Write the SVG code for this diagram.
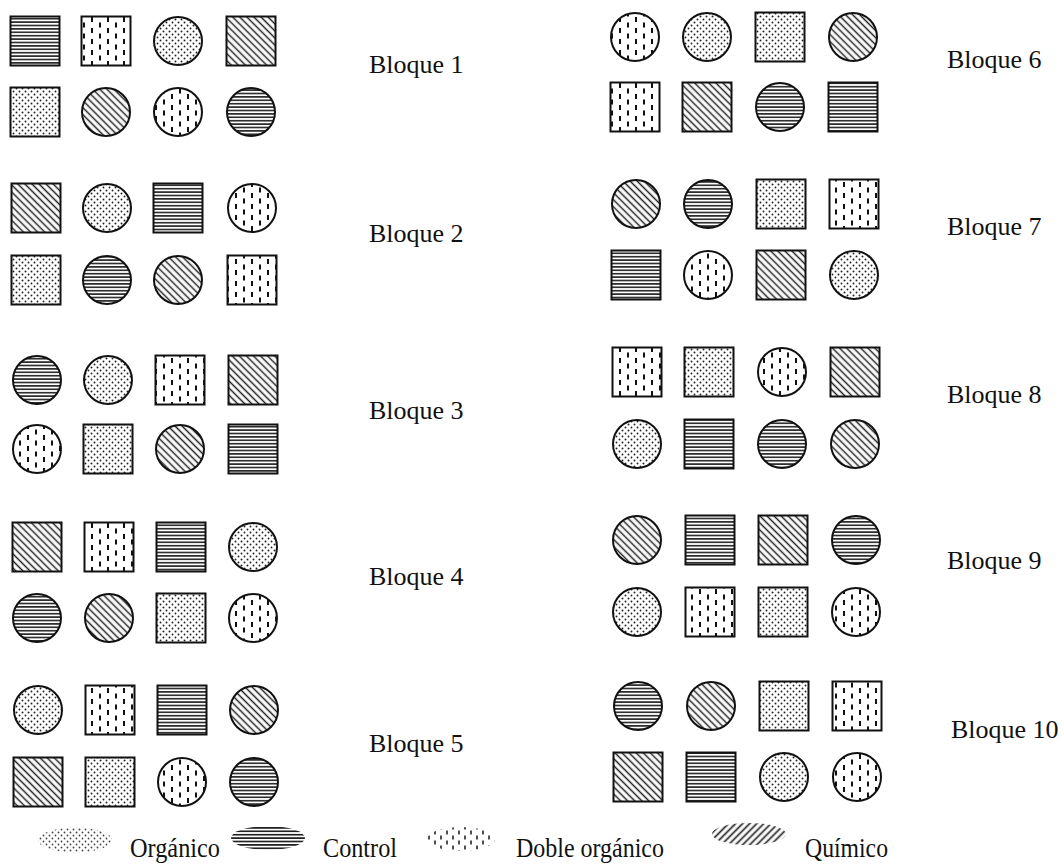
<svg xmlns="http://www.w3.org/2000/svg" width="1064" height="865" viewBox="0 0 1064 865">
<style>
.s{stroke:#111;stroke-width:2}
.O{fill:url(#pO)}
.K{fill:url(#pK)}
.D{fill:url(#pD)}
.Q{fill:url(#pQ)}
.t{font-family:"Liberation Serif","Times New Roman",serif;font-size:26px;fill:#111}
.lg{font-family:"Liberation Serif","Times New Roman",serif;font-size:28px;fill:#111}
</style>
<defs>
<pattern id="pO" width="6" height="6" patternUnits="userSpaceOnUse"><rect width="6" height="6" fill="#fff"/><circle cx="1.5" cy="1.5" r="0.95" fill="#222"/><circle cx="4.5" cy="4.5" r="0.95" fill="#222"/></pattern>
<pattern id="pK" width="8" height="3.4" patternUnits="userSpaceOnUse"><rect width="8" height="3.4" fill="#fff"/><line x1="0" y1="1.7" x2="8" y2="1.7" stroke="#222" stroke-width="1.6"/></pattern>
<pattern id="pQ" width="5" height="5" patternUnits="userSpaceOnUse" patternTransform="rotate(-45)"><rect width="5" height="5" fill="#fff"/><line x1="2.5" y1="0" x2="2.5" y2="5" stroke="#222" stroke-width="1.5"/></pattern>
<pattern id="pD" width="16" height="11" patternUnits="userSpaceOnUse"><rect width="16" height="11" fill="#fff"/><line x1="4" y1="0.5" x2="4" y2="5.5" stroke="#111" stroke-width="2"/><line x1="12" y1="6" x2="12" y2="11" stroke="#111" stroke-width="2"/></pattern>
<pattern id="lO" width="6" height="6" patternUnits="userSpaceOnUse"><circle cx="1.5" cy="1.5" r="0.9" fill="#444"/><circle cx="4.5" cy="4.5" r="0.9" fill="#444"/></pattern>
<pattern id="lK" width="8" height="3.4" patternUnits="userSpaceOnUse"><line x1="0" y1="1.7" x2="8" y2="1.7" stroke="#222" stroke-width="1.7"/></pattern>
<pattern id="lQ" width="5" height="5" patternUnits="userSpaceOnUse" patternTransform="rotate(45)"><line x1="2.5" y1="0" x2="2.5" y2="5" stroke="#222" stroke-width="1.7"/></pattern>
<pattern id="lD" width="12" height="10" patternUnits="userSpaceOnUse"><line x1="3" y1="0.5" x2="3" y2="4.5" stroke="#222" stroke-width="1.6"/><line x1="9" y1="5.5" x2="9" y2="9.5" stroke="#222" stroke-width="1.6"/></pattern>
</defs>

<g id="bloque1">
<rect class="s K" x="10.5" y="16.5" width="49" height="49"/>
<rect class="s D" x="81.5" y="16.5" width="49" height="49"/>
<circle class="s O" cx="178" cy="41" r="24"/>
<rect class="s Q" x="226.5" y="16.5" width="49" height="49"/>
<rect class="s O" x="10.5" y="87.5" width="49" height="49"/>
<circle class="s Q" cx="106" cy="112" r="24"/>
<circle class="s D" cx="178" cy="112" r="24"/>
<circle class="s K" cx="251" cy="112" r="24"/>
<text class="t" x="369" y="73">Bloque 1</text>
</g>

<g id="bloque2">
<rect class="s Q" x="11.5" y="183.5" width="49" height="49"/>
<circle class="s O" cx="107" cy="208" r="24"/>
<rect class="s K" x="153.5" y="183.5" width="49" height="49"/>
<circle class="s D" cx="252" cy="208" r="24"/>
<rect class="s O" x="11.5" y="255.5" width="49" height="49"/>
<circle class="s K" cx="107" cy="280" r="24"/>
<circle class="s Q" cx="178" cy="280" r="24"/>
<rect class="s D" x="227.5" y="255.5" width="49" height="49"/>
<text class="t" x="369" y="242">Bloque 2</text>
</g>

<g id="bloque3">
<circle class="s K" cx="37" cy="380" r="24"/>
<circle class="s O" cx="108" cy="380" r="24"/>
<rect class="s D" x="155.5" y="355.5" width="49" height="49"/>
<rect class="s Q" x="228.5" y="355.5" width="49" height="49"/>
<circle class="s D" cx="37" cy="449" r="24"/>
<rect class="s O" x="83.5" y="424.5" width="49" height="49"/>
<circle class="s Q" cx="180" cy="449" r="24"/>
<rect class="s K" x="228.5" y="424.5" width="49" height="49"/>
<text class="t" x="369" y="419">Bloque 3</text>
</g>

<g id="bloque4">
<rect class="s Q" x="12.5" y="522.5" width="49" height="49"/>
<rect class="s D" x="84.5" y="522.5" width="49" height="49"/>
<rect class="s K" x="156.5" y="522.5" width="49" height="49"/>
<circle class="s O" cx="253" cy="547" r="24"/>
<circle class="s K" cx="37" cy="618" r="24"/>
<circle class="s Q" cx="109" cy="618" r="24"/>
<rect class="s O" x="156.5" y="593.5" width="49" height="49"/>
<circle class="s D" cx="253" cy="618" r="24"/>
<text class="t" x="369" y="585">Bloque 4</text>
</g>

<g id="bloque5">
<circle class="s O" cx="38" cy="710" r="24"/>
<rect class="s D" x="85.5" y="685.5" width="49" height="49"/>
<rect class="s K" x="157.5" y="685.5" width="49" height="49"/>
<circle class="s Q" cx="254" cy="710" r="24"/>
<rect class="s Q" x="13.5" y="757.5" width="49" height="49"/>
<rect class="s O" x="85.5" y="757.5" width="49" height="49"/>
<circle class="s D" cx="182" cy="782" r="24"/>
<circle class="s K" cx="254" cy="782" r="24"/>
<text class="t" x="369" y="752">Bloque 5</text>
</g>

<g id="bloque6">
<circle class="s D" cx="635" cy="37" r="24"/>
<circle class="s O" cx="707" cy="37" r="24"/>
<rect class="s O" x="755.5" y="12.5" width="49" height="49"/>
<circle class="s Q" cx="853" cy="37" r="24"/>
<rect class="s D" x="610.5" y="82.5" width="49" height="49"/>
<rect class="s Q" x="682.5" y="82.5" width="49" height="49"/>
<circle class="s K" cx="780" cy="107" r="24"/>
<rect class="s K" x="828.5" y="82.5" width="49" height="49"/>
<text class="t" x="947" y="68">Bloque 6</text>
</g>

<g id="bloque7">
<circle class="s Q" cx="636" cy="204" r="24"/>
<circle class="s K" cx="708" cy="204" r="24"/>
<rect class="s O" x="756.5" y="179.5" width="49" height="49"/>
<rect class="s D" x="829.5" y="179.5" width="49" height="49"/>
<rect class="s K" x="611.5" y="250.5" width="49" height="49"/>
<circle class="s D" cx="708" cy="275" r="24"/>
<rect class="s Q" x="756.5" y="250.5" width="49" height="49"/>
<circle class="s O" cx="854" cy="275" r="24"/>
<text class="t" x="947" y="235">Bloque 7</text>
</g>

<g id="bloque8">
<rect class="s D" x="612.5" y="347.5" width="49" height="49"/>
<rect class="s O" x="684.5" y="347.5" width="49" height="49"/>
<circle class="s D" cx="782" cy="372" r="24"/>
<rect class="s Q" x="830.5" y="347.5" width="49" height="49"/>
<circle class="s O" cx="637" cy="444" r="24"/>
<rect class="s K" x="684.5" y="419.5" width="49" height="49"/>
<circle class="s K" cx="782" cy="444" r="24"/>
<circle class="s Q" cx="855" cy="444" r="24"/>
<text class="t" x="947" y="403">Bloque 8</text>
</g>

<g id="bloque9">
<circle class="s Q" cx="637" cy="540" r="24"/>
<rect class="s K" x="685.5" y="515.5" width="49" height="49"/>
<rect class="s Q" x="758.5" y="515.5" width="49" height="49"/>
<circle class="s K" cx="856" cy="540" r="24"/>
<circle class="s O" cx="637" cy="612" r="24"/>
<rect class="s D" x="685.5" y="587.5" width="49" height="49"/>
<rect class="s O" x="758.5" y="587.5" width="49" height="49"/>
<circle class="s D" cx="856" cy="612" r="24"/>
<text class="t" x="947" y="569">Bloque 9</text>
</g>

<g id="bloque10">
<circle class="s K" cx="638" cy="706" r="24"/>
<circle class="s Q" cx="711" cy="706" r="24"/>
<rect class="s O" x="759.5" y="681.5" width="49" height="49"/>
<rect class="s D" x="832.5" y="681.5" width="49" height="49"/>
<rect class="s Q" x="613.5" y="752.5" width="49" height="49"/>
<rect class="s K" x="686.5" y="752.5" width="49" height="49"/>
<circle class="s O" cx="784" cy="777" r="24"/>
<circle class="s D" cx="857" cy="777" r="24"/>
<text class="t" x="951" y="738">Bloque 10</text>
</g>

<g id="leyenda">
<ellipse cx="75" cy="840" rx="37" ry="12.5" fill="url(#lO)"/>
<text class="lg" x="130" y="857" textLength="90" lengthAdjust="spacingAndGlyphs">Orgánico</text>
<ellipse cx="268" cy="838" rx="37" ry="12" fill="url(#lK)"/>
<text class="lg" x="323" y="857" textLength="74" lengthAdjust="spacingAndGlyphs">Control</text>
<ellipse cx="461" cy="839" rx="34" ry="12" fill="url(#lD)"/>
<text class="lg" x="516" y="857" textLength="148" lengthAdjust="spacingAndGlyphs">Doble orgánico</text>
<ellipse cx="749" cy="834" rx="37" ry="11" fill="url(#lQ)"/>
<text class="lg" x="805" y="857" textLength="83" lengthAdjust="spacingAndGlyphs">Químico</text>
</g>
</svg>
